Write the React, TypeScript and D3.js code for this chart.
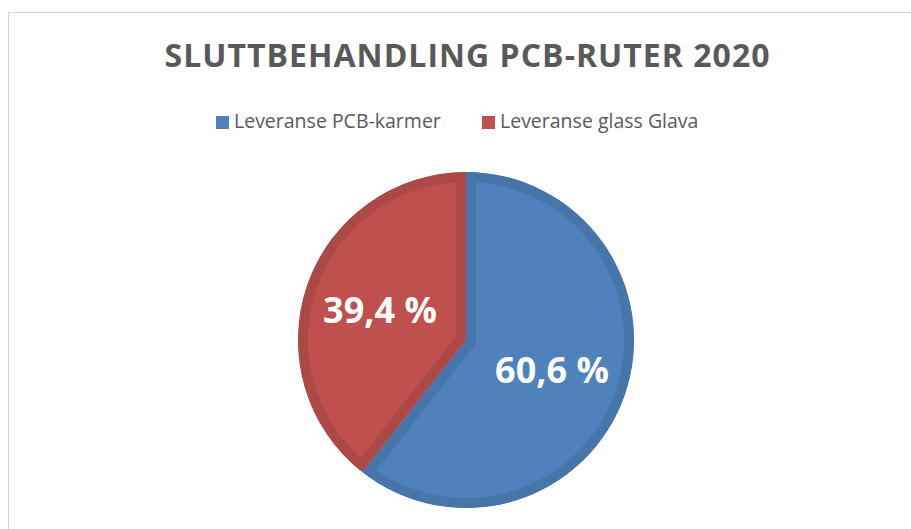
import React from 'react';
import * as d3 from 'd3';

const categories = ['Leveranse PCB-karmer', 'Leveranse glass Glava'];
const values = [60.6, 39.4];
const labels = ['60,6 %', '39,4 %'];
const fills = ['#4F81BD', '#C0504D'];
const strokes = ['#4775AA', '#AC4845'];
const title = 'SLUTTBEHANDLING PCB-RUTER 2020';

const W = 911;
const H = 529;
const cx = 466;
const cy = 340;
const radius = 168;

export default function App() {
  const pie = d3.pie<number>().sort(null).value(d => d)(values);
  const arc = d3.arc<d3.PieArcDatum<number>>().innerRadius(0).outerRadius(radius);
  const labelArc = d3.arc<d3.PieArcDatum<number>>().innerRadius(91).outerRadius(91);

  const legendX = [216, 482];
  const font = '"Open Sans", sans-serif';

  return (
    <svg width={W} height={H} style={{ position: 'absolute', left: 0, top: 0 }}>
      <rect x={0} y={0} width={W} height={H} fill="#fff" />
      <rect x={8.5} y={12.5} width={W + 20} height={H + 20} fill="#fff" stroke="#d9d9d9" strokeWidth={1} />
      <text x={467} y={67} textAnchor="middle" fontFamily={font} fontWeight={700} fontSize={32}
        fill="#595959" textLength={605} lengthAdjust="spacing">{title}</text>

      {categories.map((c, i) => (
        <g key={c} transform={`translate(${legendX[i]},0)`}>
          <rect x={0} y={116} width={13} height={13} fill={fills[i]} />
          <text x={18} y={128} fontFamily={font} fontSize={19.5} fill="#595959">{c}</text>
        </g>
      ))}

      <defs>
        {pie.map((d, i) => (
          <clipPath key={i} id={`clip${i}`}>
            <path d={arc(d) || ''} />
          </clipPath>
        ))}
      </defs>
      <g transform={`translate(${cx},${cy})`}>
        {pie.map((d, i) => (
          <path key={i} d={arc(d) || ''} fill={fills[i]} stroke={strokes[i]} strokeWidth={20}
            clipPath={`url(#clip${i})`} />
        ))}
        {pie.map((d, i) => {
          const [x, y] = labelArc.centroid(d);
          return (
            <text key={`l${i}`} x={x} y={y} dy="0.36em" textAnchor="middle" fontFamily={font}
              fontWeight={700} fontSize={36} fill="#fff">{labels[i]}</text>
          );
        })}
      </g>
    </svg>
  );
}
